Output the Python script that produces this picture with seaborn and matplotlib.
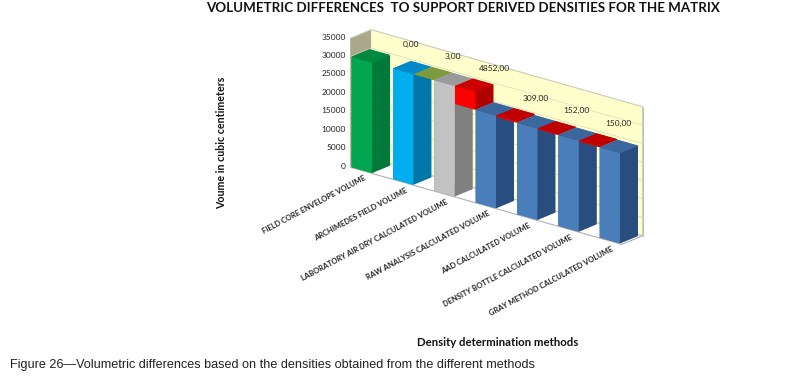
import matplotlib
matplotlib.use('Agg')
import matplotlib.pyplot as plt
from mpl_toolkits.mplot3d import proj3d
import seaborn as sns

categories = ['FIELD CORE ENVELOPE VOLUME', 'ARCHIMEDES FIELD VOLUME',
              'LABORATORY AIR DRY CALCULATED VOLUME', 'RAW ANALYSIS CALCULATED VOLUME',
              'AAD CALCULATED VOLUME', 'DENSITY BOTTLE CALCULATED VOLUME',
              'GRAY METHOD CALCULATED VOLUME']
volumes = [30000, 30000, 29997, 25145, 24836, 24684, 24534]
differences = [0, 3, 4852, 309, 152, 150]
diff_labels = ['0,00', '3,00', '4852,00', '309,00', '152,00', '150,00']
zticks = [0, 5000, 10000, 15000, 20000, 25000, 30000, 35000]

# top, front, side
bar_faces = [('#00893f', '#00a650', '#007a3a'),
             ('#0089c9', '#00aeef', '#0077a8'),
             ('#9a9a9a', '#c2c2c2', '#808080'),
             ('#3c669e', '#4a7ebb', '#2a4d7f'),
             ('#3c669e', '#4a7ebb', '#2a4d7f'),
             ('#3c669e', '#4a7ebb', '#2a4d7f'),
             ('#3c669e', '#4a7ebb', '#2a4d7f')]
diff_faces = [('#7d9a3f', '#7d9a3f', '#7d9a3f'),
              ('#7d9a3f', '#7d9a3f', '#7d9a3f'),
              ('#cc0000', '#ff0000', '#b00000'),
              ('#c00000', '#ff0000', '#b00000'),
              ('#c00000', '#ff0000', '#b00000'),
              ('#c00000', '#ff0000', '#b00000')]

sns.set_style('white')
plt.rcParams['font.family'] = ['Lato', 'DejaVu Sans']
plt.rcParams['grid.color'] = '#d8d8b8'
plt.rcParams['grid.linewidth'] = 0.5

fig = plt.figure(figsize=(7.89, 3.8), dpi=100)
S = 369
ax = fig.add_axes([307 / 789, 53.5 / 380, S / 789, S / 380], projection='3d', proj_type='ortho')
ax.view_init(elev=20, azim=-50.3)
ax.set_box_aspect((355, 33, 138))
ax.computed_zorder = False
ax.set_xlim(-0.02, 6.55)
ax.set_ylim(0, 1)
ax.set_zlim(0, 35000)
ax.set_xticks([])
ax.set_yticks([])
ax.set_zticks(zticks)
ax.set_zticklabels([])
ax.zaxis._axinfo['tick']['inward_factor'] = 0
ax.zaxis._axinfo['tick']['outward_factor'] = 0

ax.xaxis.set_pane_color('#a9a88a')
ax.yaxis.set_pane_color('#ffffcc')
ax.zaxis.set_pane_color('white')
for axis in (ax.xaxis, ax.yaxis, ax.zaxis):
    axis.pane.set_edgecolor('#b5b5b5')
    axis.pane.set_linewidth(0.6)
    axis.line.set_color('#b5b5b5')
    axis.line.set_linewidth(0.6)

bar_w = 0.49
y0, dy = 0.03, 0.86
proj = ax.get_proj()


def box(x, bottom, height, faces, order):
    top, front, side = faces
    ax.bar3d(x, y0, bottom, bar_w, dy, height,
             color=[top, top, front, front, side, side],
             shade=False, linewidth=0, zorder=order)


def label(x, y, z, s, **kw):
    # 3d text ignores rotation, so put it through the projection and use 2d text
    px, py, _ = proj3d.proj_transform(x, y, z, proj)
    ax.text2D(px, py, s, transform=ax.transData, color='#222222', zorder=50, **kw)


for i, (vol, faces) in enumerate(zip(volumes, bar_faces)):
    box(i, 0, vol, faces, 2 * i)
    label(i + 0.3, 0, -1000, categories[i], size=5.4, weight='bold',
          rotation=28, rotation_mode='anchor', ha='right', va='top')

for i, diff in enumerate(differences):
    top = volumes[i]
    if diff > 0:
        box(i + 0.5, top - diff, diff, diff_faces[i], 2 * i + 1)
    label(i + 0.95, 1, top + 3000, diff_labels[i], size=6, ha='center', va='bottom')

for t in zticks:
    label(-0.12, 0, t, str(t), size=6, ha='right', va='center')

fig.text(463 / 789, 1 - 8 / 380, 'VOLUMETRIC DIFFERENCES  TO SUPPORT DERIVED DENSITIES FOR THE MATRIX',
         size=9.6, weight='bold', ha='center', va='center', color='#111111')
fig.text(222 / 789, 1 - 143 / 380, 'Voume in cubic centimeters', size=7.7, weight='bold',
         rotation=90, ha='center', va='center', color='#111111')
fig.text(498 / 789, 1 - 342 / 380, 'Density determination methods', size=8.2, weight='bold',
         ha='center', va='center', color='#111111')
fig.text(10 / 789, 1 - 365 / 380,
         'Figure 26\u2014Volumetric differences based on the densities obtained from the different methods',
         size=9.05, family='Liberation Sans', ha='left', va='center', color='#222222')

fig.savefig('out.png', dpi=100)
